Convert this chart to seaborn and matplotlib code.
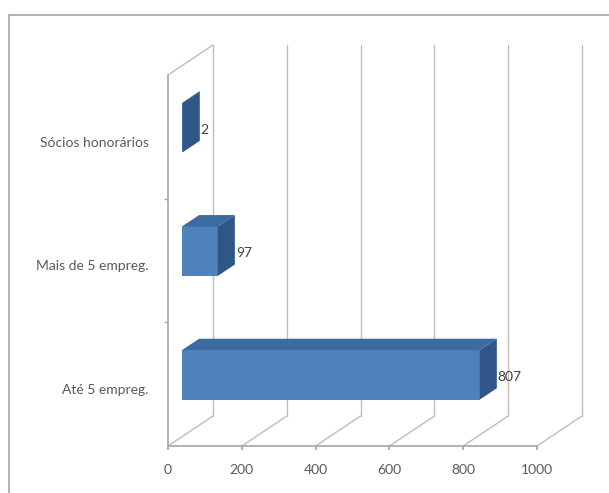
import matplotlib
matplotlib.use("Agg")
import matplotlib.pyplot as plt
import seaborn as sns
import pandas as pd
from matplotlib.patches import Rectangle, Polygon
from matplotlib.transforms import ScaledTranslation

# Membership by category
categories = ["Sócios honorários", "Mais de 5 empreg.", "Até 5 empreg."]
values = [2, 97, 807]
x_ticks = [0, 200, 400, 600, 800, 1000]

sns.set_theme(style="white")
plt.rcParams["font.family"] = ["Lato", "DejaVu Sans"]

W, H = 609, 493
fig = plt.figure(figsize=(W / 100, H / 100), dpi=100)
fig.patch.set_facecolor("white")

# front plane of the 3-D box (pixels)
left_px, right_px, bottom_px, top_px = 168, 537, 446, 75
ax = fig.add_axes([left_px / W, 1 - bottom_px / H,
                   (right_px - left_px) / W, (bottom_px - top_px) / H])

df = pd.DataFrame({"categoria": categories, "socios": values})
sns.barplot(data=df, x="socios", y="categoria", orient="h", width=0.4,
            color="#4F81BD", saturation=1, ax=ax, zorder=3)

xmin, xmax = x_ticks[0], x_ticks[-1]
ax.set_xlim(xmin, xmax)
ax.set_ylim(len(categories) - 0.5, -0.5)

# depth vector of the box, converted from pixels into data units
depth_px = (45, 30)
px_x = (xmax - xmin) / (right_px - left_px)
px_y = len(categories) / (bottom_px - top_px)
Dx, Dy = depth_px[0] * px_x, -depth_px[1] * px_y

grid_kw = dict(color="#bdbdbd", lw=1.0, clip_on=False, zorder=1)
y_floor, y_top = len(categories) - 0.5, -0.5

# back wall verticals and floor diagonals
for t in x_ticks:
    ax.plot([t + Dx, t + Dx], [y_floor + Dy, y_top + Dy], **grid_kw)
    ax.plot([t, t + Dx], [y_floor, y_floor + Dy], **grid_kw)
# left wall top edge
ax.plot([xmin, xmin + Dx], [y_top, y_top + Dy], **grid_kw)

# 3-D bar faces
f0, f1 = 0.31, 0.69
d = f1 - f0
top_color, side_color = "#3C6AA3", "#2F5687"
for p, v in zip(ax.patches, values):
    x0, y0, w, h = p.get_x(), p.get_y(), p.get_width(), p.get_height()
    x0 += f0 * Dx
    y0 += f0 * Dy
    p.set_x(x0)
    p.set_y(y0)
    p.set_edgecolor("none")
    top = Polygon([(x0, y0), (x0 + w, y0), (x0 + w + d * Dx, y0 + d * Dy),
                   (x0 + d * Dx, y0 + d * Dy)], closed=True,
                  facecolor=top_color, edgecolor="none", zorder=3, clip_on=False)
    side = Polygon([(x0 + w, y0), (x0 + w, y0 + h),
                    (x0 + w + d * Dx, y0 + h + d * Dy),
                    (x0 + w + d * Dx, y0 + d * Dy)], closed=True,
                   facecolor=side_color, edgecolor="none", zorder=3, clip_on=False)
    ax.add_patch(top)
    ax.add_patch(side)
    ax.text(x0 + w + d * Dx + 1.0 * px_x, y0 + h / 2 + 2 * px_y, f"{v}",
            ha="left", va="center", fontsize=10, color="#404040", zorder=4)

# axes styling
for s in ["top", "right"]:
    ax.spines[s].set_visible(False)
for s in ["left", "bottom"]:
    ax.spines[s].set_color("#a6a6a6")
    ax.spines[s].set_linewidth(1.2)
ax.set_xticks(x_ticks)
ax.set_xticklabels([str(t) for t in x_ticks])
ax.set_yticks(range(len(categories)))
ax.set_yticks([i + 0.5 for i in range(len(categories) - 1)], minor=True)
ax.tick_params(axis="x", length=3, color="#a6a6a6", pad=10,
               labelsize=10, labelcolor="#595959", bottom=True)
ax.tick_params(axis="y", which="major", length=0, pad=14,
               labelsize=10, labelcolor="#595959", left=False)
ax.tick_params(axis="y", which="minor", length=3, color="#a6a6a6", left=True)
ax.set_xlabel("")
ax.set_ylabel("")
ax.set_facecolor("none")
ax.grid(False)

# nudge category labels slightly downward
shift = ScaledTranslation(0, -5 / 100, fig.dpi_scale_trans)
for lab in ax.get_yticklabels():
    lab.set_transform(lab.get_transform() + shift)

# chart border (runs past the right and bottom edges)
fig.patches.append(Rectangle((9 / W, -10 / H), 620 / W, 488 / H,
                             transform=fig.transFigure, fill=False,
                             edgecolor="#a6a6a6", lw=1.2))

fig.savefig("out.png", dpi=100)
